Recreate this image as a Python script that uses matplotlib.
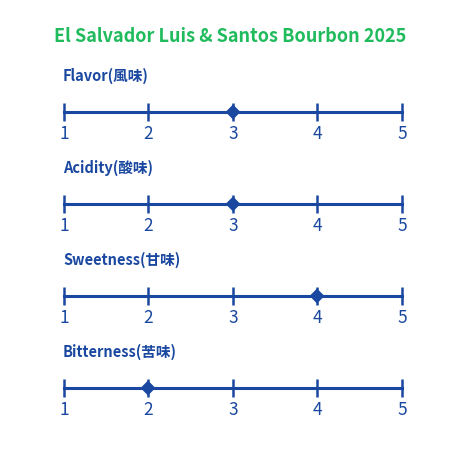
import matplotlib
matplotlib.use("Agg")
import matplotlib.pyplot as plt

plt.rcParams["font.family"] = ["Noto Sans CJK JP", "DejaVu Sans"]

title = "El Salvador Luis & Santos Bourbon 2025"
categories = ["Flavor(風味)", "Acidity(酸味)", "Sweetness(甘味)", "Bitterness(苦味)"]
scores = [3, 3, 4, 2]
scale = [1, 2, 3, 4, 5]

BLUE = "#1a48a0"
GREEN = "#1fbb5c"
W = H = 460


def main() -> None:
    fig = plt.figure(figsize=(W / 100, H / 100), dpi=100)
    fig.text(230 / W, 1 - 37 / H, title, color=GREEN, fontsize=13, fontweight="bold",
             ha="center", va="center")

    line_y = [113, 205, 297, 389]
    for name, score, y in zip(categories, scores, line_y):
        fig.text(63 / W, 1 - (y - 37) / H, name, color=BLUE, fontsize=10.5,
                 fontweight="bold", ha="left", va="center")
        ax = fig.add_axes([64 / W, 1 - (y + 30) / H, 338 / W, 60 / H])
        ax.set_xlim(scale[0], scale[-1])
        ax.set_ylim(-1, 1)
        for side in ("top", "left", "right"):
            ax.spines[side].set_visible(False)
        ax.spines["bottom"].set_position("zero")
        ax.spines["bottom"].set_color(BLUE)
        ax.spines["bottom"].set_linewidth(2.2)
        ax.set_yticks([])
        ax.set_xticks(scale)
        ax.tick_params(axis="x", direction="inout", length=13, width=1.8, color=BLUE,
                       labelcolor=BLUE, labelsize=12.5, pad=2)
        ax.plot([score], [0], marker="D", markersize=6.5, color=BLUE, markeredgewidth=1.5,
                markeredgecolor=BLUE, clip_on=False, zorder=5)
        ax.patch.set_visible(False)

    fig.savefig("out.png", dpi=100, facecolor="white")
    plt.close(fig)


if __name__ == "__main__":
    main()
